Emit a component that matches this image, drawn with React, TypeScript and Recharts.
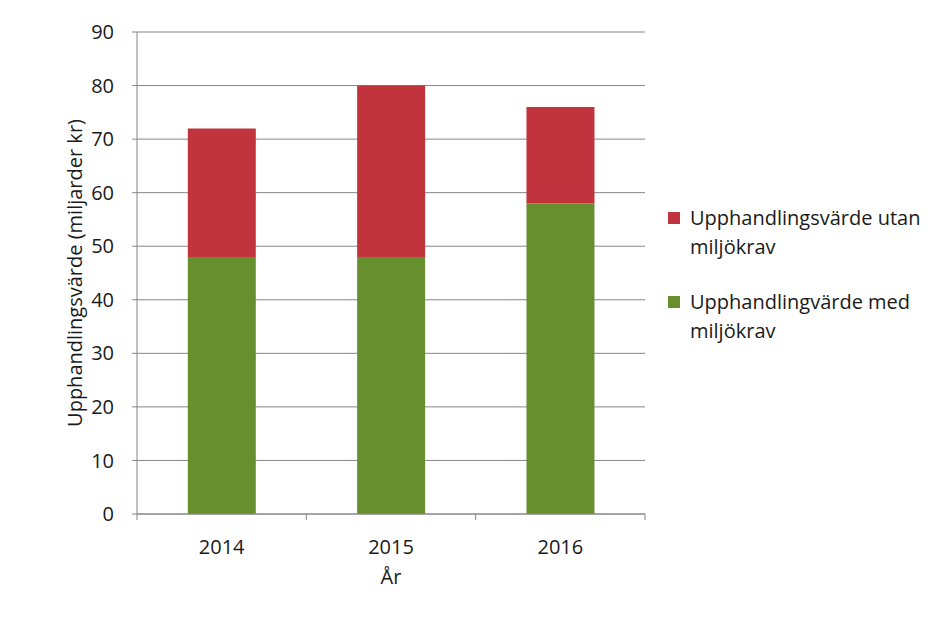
import React from 'react';
import { BarChart, Bar, XAxis, YAxis, CartesianGrid } from 'recharts';

const years = ['2014', '2015', '2016'];
const medMiljokrav = [48, 48, 58];
const utanMiljokrav = [24, 32, 18];
const yTicks = [0, 10, 20, 30, 40, 50, 60, 70, 80, 90];

const data = years.map((y, i) => ({ year: y, med: medMiljokrav[i], utan: utanMiljokrav[i] }));

const W = 945;
const H = 618;
const PLOT_LEFT = 137;
const PLOT_RIGHT = 645;
const PLOT_TOP = 32;
const PLOT_BOTTOM = 514;
const BAND = (PLOT_RIGHT - PLOT_LEFT) / years.length;
const AXIS_COLOR = '#868686';
const FONT = '"Open Sans", sans-serif';
const FS = 20;
const TEXT = '#1a1a1a';
const RED = '#C1343D';
const GREEN = '#678F2D';

const XTick = (props: any) => {
  const { x, payload, index } = props;
  const isLast = index === years.length - 1;
  return (
    <g>
      <line x1={x - BAND / 2} y1={PLOT_BOTTOM} x2={x - BAND / 2} y2={PLOT_BOTTOM + 6} stroke={AXIS_COLOR} />
      {isLast && (
        <line x1={x + BAND / 2} y1={PLOT_BOTTOM} x2={x + BAND / 2} y2={PLOT_BOTTOM + 6} stroke={AXIS_COLOR} />
      )}
      <text x={x} y={PLOT_BOTTOM + 32} textAnchor="middle" dominantBaseline="central" fontSize={FS} fill={TEXT} fontFamily={FONT}>
        {payload.value}
      </text>
    </g>
  );
};

const legendItems = [
  { label: 'Upphandlingsvärde utan miljökrav', color: RED },
  { label: 'Upphandlingvärde med miljökrav', color: GREEN },
];

const LegendBox = () => (
  <div
    style={{
      position: 'absolute',
      left: 668,
      top: 203,
      width: 275,
      fontFamily: FONT,
      fontSize: FS,
      color: TEXT,
      lineHeight: '29px',
    }}
  >
    {legendItems.map((it) => (
      <div key={it.label} style={{ display: 'flex', alignItems: 'flex-start', marginBottom: 26 }}>
        <div style={{ width: 12, height: 12, background: it.color, marginTop: 9, marginRight: 10, flexShrink: 0 }} />
        <div style={{ width: 250 }}>{it.label}</div>
      </div>
    ))}
  </div>
);

export default function App() {
  return (
    <div style={{ position: 'absolute', left: 0, top: 0, width: W, height: H, background: '#fff' }}>
      <BarChart
        width={W}
        height={H}
        data={data}
        margin={{ top: PLOT_TOP, right: W - PLOT_RIGHT, bottom: 0, left: PLOT_LEFT - 80 }}
        barCategoryGap="30%"
      >
        <CartesianGrid vertical={false} stroke={AXIS_COLOR} />
        <XAxis
          dataKey="year"
          height={H - PLOT_BOTTOM}
          axisLine={{ stroke: AXIS_COLOR }}
          tickLine={false}
          tick={<XTick />}
          interval={0}
          label={{ value: 'År', position: 'insideBottom', offset: 34, fontSize: FS, fill: TEXT, fontFamily: FONT }}
        />
        <YAxis
          width={80}
          domain={[0, 90]}
          ticks={yTicks}
          interval={0}
          axisLine={{ stroke: AXIS_COLOR }}
          tickLine={{ stroke: AXIS_COLOR }}
          tickSize={5}
          tickMargin={18}
          tick={{ fontSize: FS, fill: TEXT, fontFamily: FONT }}
          label={{
            value: 'Upphandlingsvärde (miljarder kr)',
            angle: -90,
            position: 'insideLeft',
            offset: 18,
            style: { textAnchor: 'middle' },
            fontSize: FS,
            fill: TEXT,
            fontFamily: FONT,
          }}
        />
        <Bar dataKey="med" stackId="a" fill={GREEN} isAnimationActive={false} />
        <Bar dataKey="utan" stackId="a" fill={RED} isAnimationActive={false} />
      </BarChart>
      <LegendBox />
    </div>
  );
}
